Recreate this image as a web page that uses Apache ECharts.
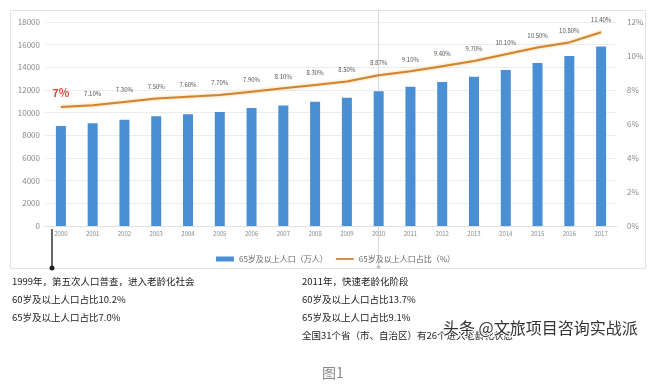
<!DOCTYPE html>
<html><head><meta charset="utf-8">
<script src="https://cdn.jsdelivr.net/npm/echarts@6/dist/echarts.min.js"></script>
<style>html,body{margin:0;padding:0;background:#fff}#c{width:671px;height:387px}</style>
</head><body><div id="c"></div>
<script>
var years = ['2000','2001','2002','2003','2004','2005','2006','2007','2008','2009','2010','2011','2012','2013','2014','2015','2016','2017'];
var pop65 = [8821,9062,9377,9692,9857,10055,10419,10636,10956,11307,11894,12288,12714,13161,13755,14386,15003,15831];
var share65 = [7.0,7.1,7.3,7.5,7.6,7.7,7.9,8.1,8.3,8.5,8.87,9.1,9.4,9.7,10.1,10.5,10.8,11.4];
var shareLabels = ['7%','7.10%','7.30%','7.50%','7.60%','7.70%','7.90%','8.10%','8.30%','8.50%','8.87%','9.10%','9.40%','9.70%','10.10%','10.50%','10.80%','11.40%'];
var seriesNames = ['65岁及以上人口（万人）','65岁及以上人口占比（%）'];
var noteLeft = ['1999年，第五次人口普查，进入老龄化社会','60岁及以上人口占比10.2%','65岁及以上人口占比7.0%'];
var noteRight = ['2011年，快速老龄化阶段','60岁及以上人口占比13.7%','65岁及以上人口占比9.1%','全国31个省（市、自治区）有26个进入老龄化状态'];
var watermark = '头条 @文旅项目咨询实战派';
var caption = '图1';

var chart = echarts.init(document.getElementById('c'));
var FONT = '"Noto Sans CJK SC","Microsoft YaHei",sans-serif';
var graphics = [
  {type:'rect', shape:{x:10.5,y:10.5,width:635,height:258}, style:{fill:'none',stroke:'#e2e2e2',lineWidth:1}, z:-1},
  {type:'line', shape:{x1:52,y1:229,x2:52,y2:267}, style:{stroke:'#333',lineWidth:1.5}},
  {type:'circle', shape:{cx:52,cy:268,r:2.5}, style:{fill:'#222'}},
  {type:'line', shape:{x1:378.5,y1:11,x2:378.5,y2:266}, style:{stroke:'#d8d8d8',lineWidth:1}, z:-1},
  {type:'circle', shape:{cx:378.5,cy:267,r:2}, style:{fill:'#c8c8c8'}}
];
noteLeft.forEach(function(t,i){
  graphics.push({type:'text', left:12, top:277+i*18, style:{text:t, fill:'#222', font:'9.5px '+FONT}});
});
noteRight.forEach(function(t,i){
  graphics.push({type:'text', left:302, top:277+i*18, style:{text:t, fill:'#222', font:'9.5px '+FONT}});
});
graphics.push({type:'text', left:442, top:319, style:{text:watermark, fill:'#333', font:'16px '+FONT, stroke:'#fff', lineWidth:2}});
graphics.push({type:'text', left:322, top:366, style:{text:caption, fill:'#888', font:'14px '+FONT}});

chart.setOption({
  animation:false,
  backgroundColor:'#fff',
  textStyle:{fontFamily:FONT},
  grid:{left:45, right:54, top:22, bottom:161},
  legend:{
    data:[{name:seriesNames[0], icon:'rect'},{name:seriesNames[1], icon:'path://M0,0L20,0L20,2L0,2Z'}],
    top:250, left:'center', itemWidth:18, itemHeight:5, itemGap:8,
    textStyle:{fontSize:8, color:'#666'}
  },
  xAxis:{type:'category', data:years,
    axisLine:{show:true, lineStyle:{color:'#e0e0e0'}}, axisTick:{show:false},
    axisLabel:{fontSize:6, color:'#888', margin:5}},
  yAxis:[
    {type:'value', min:0, max:18000, interval:2000,
     axisLabel:{fontSize:8, color:'#888', margin:5, formatter:function(v){return String(v);}},
     axisLine:{show:false}, axisTick:{show:false},
     splitLine:{lineStyle:{color:'#ececec'}}},
    {type:'value', min:0, max:12, interval:2,
     axisLabel:{fontSize:8, color:'#888', margin:10, formatter:'{value}%'},
     axisLine:{show:false}, axisTick:{show:false}, splitLine:{show:false}}
  ],
  series:[
    {name:seriesNames[0], type:'bar', data:pop65, barWidth:10,
     itemStyle:{color:'#4a8fd4'}},
    {name:seriesNames[1], type:'line', yAxisIndex:1, data:share65, symbol:'circle', symbolSize:0, showSymbol:true,
     lineStyle:{color:'#cf8431', width:2, shadowColor:'rgba(245,190,110,0.9)', shadowBlur:3},
     itemStyle:{color:'#cf8431'},
     label:{show:true, position:'top', distance:9, fontSize:6, color:'#555',
       formatter:function(p){return p.dataIndex===0?'{r|'+shareLabels[0]+'}':shareLabels[p.dataIndex];},
       rich:{r:{fontSize:11, fontWeight:'bold', color:'#e0463c'}}}
    }
  ],
  graphic:graphics
});
</script></body></html>
